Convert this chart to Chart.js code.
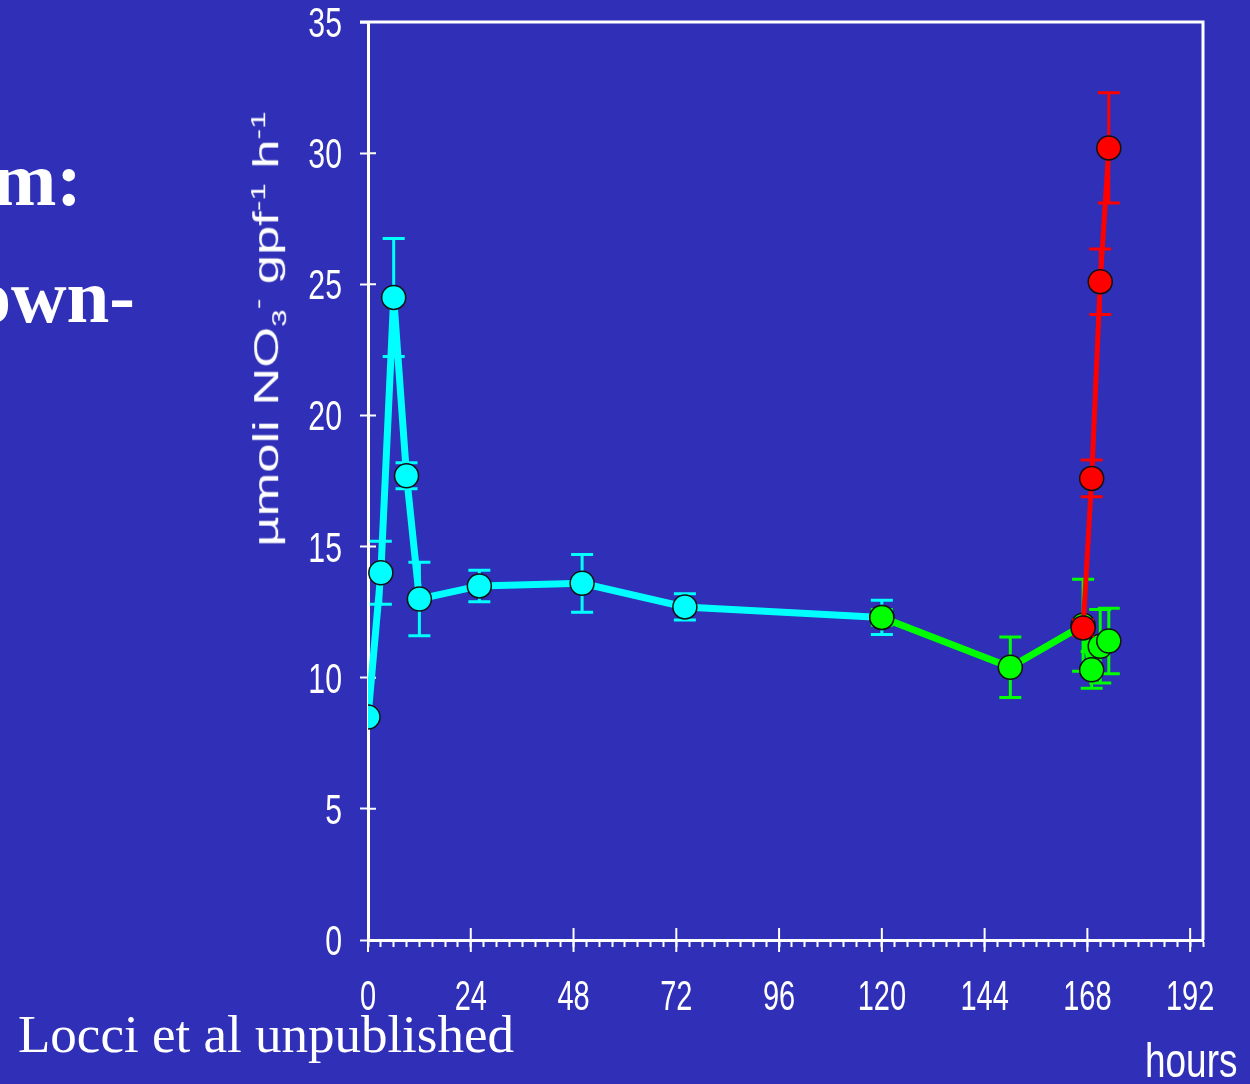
<!DOCTYPE html>
<html lang="it">
<head>
    <meta charset="UTF-8">
    <title>Nitrate uptake</title>
    <script src="https://cdn.jsdelivr.net/npm/chart.js"></script>
    <style>
        body { margin: 0; background-color: #2f2fb7; overflow: hidden; }
        #wrap { position: relative; width: 1250px; height: 1084px; }
        canvas { position: absolute; left: 0; top: 0; }
        .slide { position: absolute; color: white; white-space: nowrap; line-height: 1; }
        .bold { font-family: "Liberation Serif", "Times New Roman", serif; font-weight: bold; font-size: 77px; text-align: right; }
        #hours { left: 1145px; top: 1037px; font-family: "Liberation Sans", Arial, sans-serif; font-size: 48px;
                 transform: scaleX(0.77); transform-origin: left top; }
        #ytitle { position: absolute; left: 268px; top: 329px; color: white; white-space: nowrap;
                  font-family: "Liberation Sans", Arial, sans-serif; font-size: 35px; line-height: 1;
                  transform: translate(-50%, -50%) rotate(-90deg) scaleX(1.5); }
        #ytitle sub, #ytitle sup { font-size: 60%; }
    </style>
</head>
<body>
<div id="wrap">
    <canvas id="chart" width="1250" height="1084"></canvas>
    <div class="slide bold" style="right:1168px; top:141px;">m:</div>
    <div class="slide bold" style="right:1115px; top:258px;">own-</div>
    <div class="slide" style="left:18px; top:1008px; font-family:'Liberation Serif','Times New Roman',serif; font-size:53px;">Locci et al unpublished</div>
    <div class="slide" id="hours">hours</div>
    <div id="ytitle">µmoli NO<sub>3</sub><sup>-</sup> gpf<sup>-1</sup> h<sup>-1</sup></div>
</div>

<script>
    // values (hours, µmol NO3- gpf-1 h-1, error)
    const cyanHours  = [0, 3, 6, 9, 12, 26, 50, 74, 120];
    const cyanValues = [8.5, 14.0, 24.5, 17.7, 13.0, 13.5, 13.6, 12.7, 12.3];
    const cyanErrors = [0, 1.2, 2.25, 0.5, 1.4, 0.6, 1.1, 0.5, 0.65];

    const greenHours  = [120, 150, 167, 169, 171, 173];
    const greenValues = [12.3, 10.4, 12.0, 10.3, 11.2, 11.4];
    const greenErrors = [0.3, 1.15, 1.75, 0.7, 1.4, 1.25];

    const redHours  = [167, 169, 171, 173];
    const redValues = [11.9, 17.6, 25.1, 30.2];
    const redErrors = [0.3, 0.7, 1.25, 2.1];

    const xLabelEvery = 24;
    const xLabelMax = 192;

    function points(xs, ys) {
        return xs.map((x, i) => ({ x: x, y: ys[i] }));
    }

    function series(xs, ys, errs, color, width, order) {
        return {
            data: points(xs, ys),
            errors: errs,
            order: order,
            borderColor: color,
            backgroundColor: color,
            borderWidth: width,
            pointRadius: 12,
            pointHoverRadius: 12,
            pointBackgroundColor: color,
            pointBorderColor: '#111',
            pointBorderWidth: 1.5,
            tension: 0
        };
    }

    // error bars, drawn just before each dataset so later series cover them
    const errorBars = {
        id: 'errorBars',
        beforeDatasetDraw(chart, args) {
            const ds = chart.data.datasets[args.index];
            const x = chart.scales.x, y = chart.scales.y;
            const ctx = chart.ctx;
            ctx.save();
            ctx.strokeStyle = ds.borderColor;
            ctx.lineWidth = 3;
            ds.data.forEach((p, i) => {
                const e = ds.errors[i];
                if (!e) return;
                const px = x.getPixelForValue(p.x);
                const top = y.getPixelForValue(p.y + e);
                const bot = y.getPixelForValue(p.y - e);
                ctx.beginPath();
                ctx.moveTo(px, top); ctx.lineTo(px, bot);
                ctx.moveTo(px - 11, top); ctx.lineTo(px + 11, top);
                ctx.moveTo(px - 11, bot); ctx.lineTo(px + 11, bot);
                ctx.stroke();
            });
            ctx.restore();
        }
    };

    // closed frame, ticks crossing the axes, and the tall narrow tick labels
    const frame = {
        id: 'frame',
        beforeDatasetsDraw(chart) {
            const a = chart.chartArea, ctx = chart.ctx;
            const x = chart.scales.x, y = chart.scales.y;
            ctx.save();
            ctx.strokeStyle = 'white';
            ctx.lineWidth = 3;
            ctx.beginPath();
            ctx.moveTo(a.left - 8, a.top); ctx.lineTo(a.right, a.top); ctx.lineTo(a.right, a.bottom);
            ctx.stroke();
            ctx.lineWidth = 2;
            ctx.beginPath();
            y.ticks.forEach(t => {
                const py = y.getPixelForValue(t.value);
                ctx.moveTo(a.left, py); ctx.lineTo(a.left + 8, py);
            });
            x.ticks.forEach(t => {
                if (t.value % xLabelEvery !== 0) return;
                const px = x.getPixelForValue(t.value);
                ctx.moveTo(px, a.bottom - 12); ctx.lineTo(px, a.bottom + 12);
            });
            ctx.stroke();

            ctx.fillStyle = 'white';
            ctx.font = "42px 'Liberation Sans', Arial, sans-serif";
            ctx.textBaseline = 'alphabetic';
            ctx.textAlign = 'right';
            y.ticks.forEach(t => {
                ctx.save();
                ctx.translate(a.left - 26, y.getPixelForValue(t.value) + 15);
                ctx.scale(0.72, 1);
                ctx.fillText(String(t.value), 0, 0);
                ctx.restore();
            });
            ctx.textAlign = 'center';
            x.ticks.forEach(t => {
                if (t.value % xLabelEvery !== 0 || t.value > xLabelMax) return;
                ctx.save();
                ctx.translate(x.getPixelForValue(t.value), 1010);
                ctx.scale(0.69, 1);
                ctx.fillText(String(t.value), 0, 0);
                ctx.restore();
            });
            ctx.restore();
        }
    };

    const hidden = 'rgba(0,0,0,0)';

    new Chart(document.getElementById('chart'), {
        type: 'line',
        data: {
            datasets: [
                series(cyanHours, cyanValues, cyanErrors, '#00ffff', 7, 3),
                series(greenHours, greenValues, greenErrors, '#00ff00', 7, 2),
                series(redHours, redValues, redErrors, '#ff0000', 5, 1)
            ]
        },
        options: {
            responsive: false,
            animation: false,
            layout: { padding: { top: 22, right: 47, left: 0, bottom: 0 } },
            plugins: { legend: { display: false }, tooltip: { enabled: false } },
            scales: {
                x: {
                    type: 'linear',
                    min: 0,
                    max: 195,
                    afterFit(scale) { scale.height = 144; scale.paddingLeft = 0; scale.paddingRight = 0; },
                    border: { color: 'white', width: 3 },
                    grid: { drawOnChartArea: false, color: 'white', tickColor: 'white', tickLength: 7, tickWidth: 2 },
                    ticks: { stepSize: 3, autoSkip: false, maxRotation: 0, color: hidden, font: { size: 20 }, padding: 28 }
                },
                y: {
                    min: 0,
                    max: 35,
                    afterFit(scale) { scale.width = 368; scale.paddingTop = 0; scale.paddingBottom = 0; },
                    border: { color: 'white', width: 3 },
                    grid: { drawOnChartArea: false, color: 'white', tickColor: 'white', tickLength: 8, tickWidth: 2 },
                    ticks: { stepSize: 5, color: hidden, font: { size: 20 }, padding: 18 }
                }
            }
        },
        plugins: [frame, errorBars]
    });
</script>
</body>
</html>
